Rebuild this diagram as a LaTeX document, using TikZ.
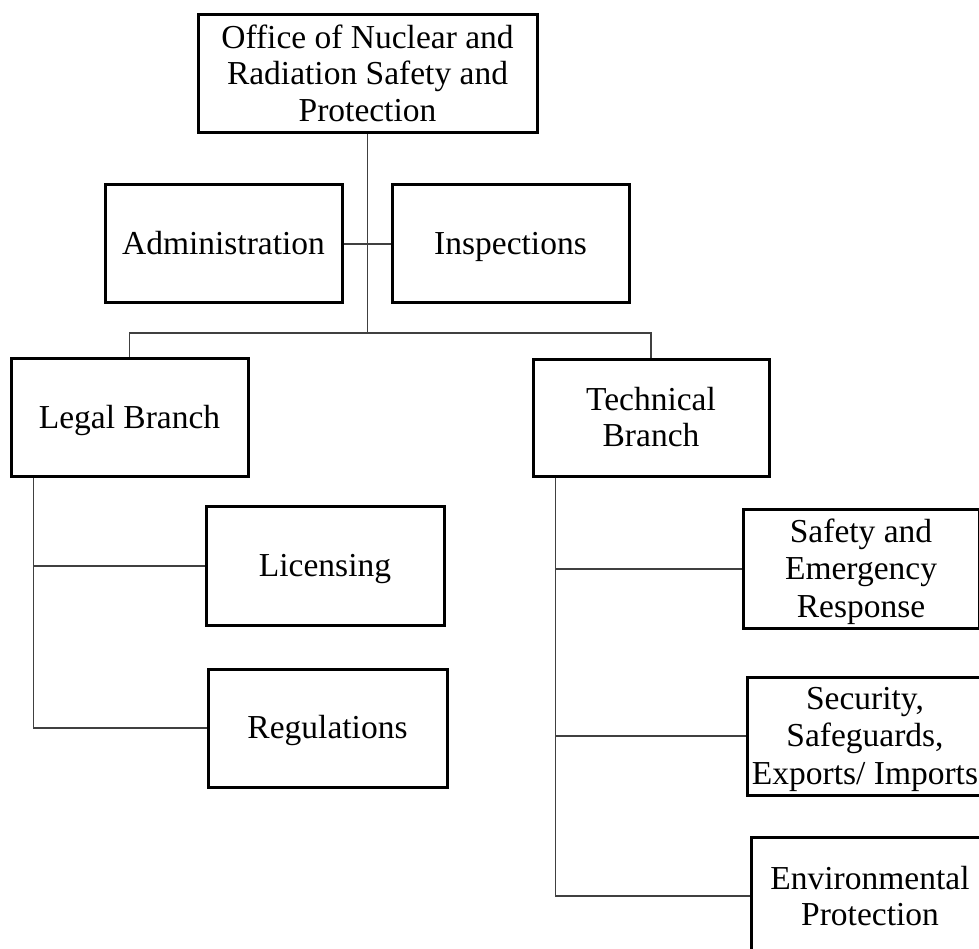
\documentclass[tikz,border=0pt]{standalone}
\usepackage{fontspec}
\setmainfont{Liberation Serif}
% line strut: keeps every line the same height/depth so caps sit centred
\newcommand\ls{\rule[-7pt]{0pt}{36pt}}
\begin{document}
\begin{tikzpicture}[x=1pt,y=-1pt,
  unit/.style={draw=black, line width=3pt, fill=white, inner sep=0pt,
    align=center, minimum width=237pt, minimum height=118pt,
    font=\fontsize{33.5}{36}\selectfont},
  link/.style={draw=black!75, line width=1.4pt}]
  \useasboundingbox (0,0) rectangle (979,949);
  \clip (0,0) rectangle (979,949);
  \fill[white] (0,0) rectangle (979,949);

  % head office
  \node[unit, minimum width=339pt] (office) at (367.5,74) {\ls Office of Nuclear and\\\ls Radiation Safety and\\\ls Protection};

  % staff units beside the main stem
  \node[unit] (admin) at (223.5,244) {\ls Administration};
  \node[unit] (insp)  at (510.5,244) {\ls Inspections};

  % branches
  \node[unit] (legal) at (129.5,417.5) {\ls Legal Branch};
  \node[unit, minimum width=236pt, minimum height=117pt] (tech) at (651,417.5) {\ls Technical\\\ls Branch};

  % legal branch sections
  \node[unit, minimum width=238pt, minimum height=119pt] (lic) at (325,566) {\ls Licensing};
  \node[unit, minimum width=239pt] (reg) at (327.5,728) {\ls Regulations};

  % technical branch sections
  \node[unit, minimum width=236pt, minimum height=119pt] (safety) at (861,569) {\ls Safety and\\\ls Emergency\\\ls Response};
  \node[unit, minimum width=236pt] (secur) at (865,736) {\ls Security,\\\ls Safeguards,\\\ls Exports/ Imports};
  \node[unit, minimum width=238pt] (env) at (870,896) {\ls Environmental\\\ls Protection};

  % connectors
  \coordinate (bus) at (367.5,333);
  \path[link] (office.south) -- (bus);
  \path[link] (admin.east) -- (insp.west);
  \path[link] (legal.north) |- (bus) -| (tech.north);

  \coordinate (lstem) at ([xshift=24pt]legal.south west);
  \path[link] (lstem) |- (lic.west);
  \path[link] (lstem) |- (reg.west);

  \coordinate (tstem) at ([xshift=24pt]tech.south west);
  \path[link] (tstem) |- (safety.west);
  \path[link] (tstem) |- (secur.west);
  \path[link] (tstem) |- (env.west);
\end{tikzpicture}
\end{document}
